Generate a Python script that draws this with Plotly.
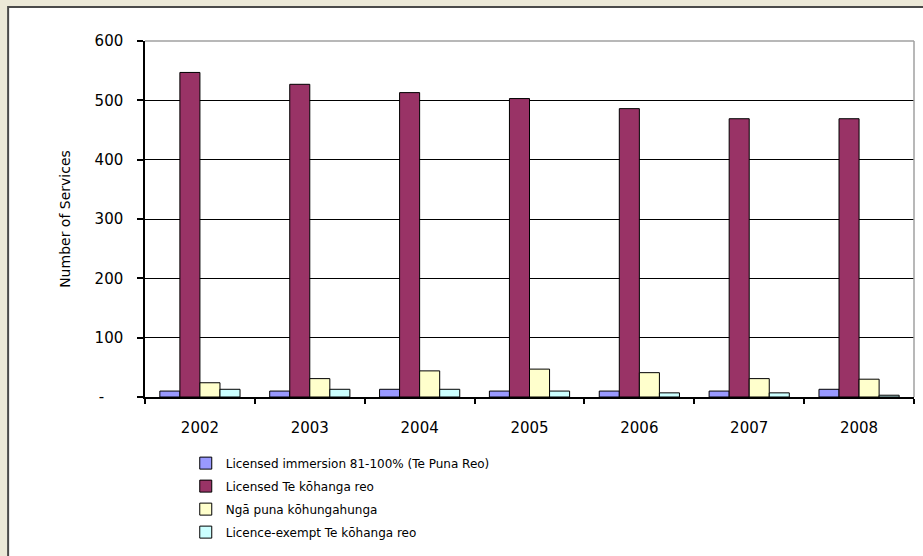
import plotly.graph_objects as go

years = ["2002", "2003", "2004", "2005", "2006", "2007", "2008"]
series_names = [
    "Licensed immersion 81-100% (Te Puna Reo)",
    "Licensed Te kōhanga reo",
    "Ngā puna kōhungahunga",
    "Licence-exempt Te kōhanga reo",
]
immersion = [10, 10, 13, 10, 10, 10, 13]
kohanga = [547, 527, 513, 503, 486, 469, 469]
puna = [24, 31, 44, 47, 41, 31, 30]
exempt = [13, 13, 13, 10, 7, 7, 3]
colors = ["#9999FF", "#993366", "#FFFFCC", "#CCFFFF"]
y_tickvals = [0, 100, 200, 300, 400, 500, 600]
y_ticktext = ["-\u00a0\u00a0\u00a0\u00a0", "100", "200", "300", "400", "500", "600"]

FONT = "DejaVu Sans"

fig = go.Figure()
for i, (name, vals) in enumerate(zip(series_names, [immersion, kohanga, puna, exempt])):
    fig.add_trace(go.Bar(
        x=years, y=vals, name=name,
        marker=dict(color=colors[i], line=dict(color="#000000", width=1)),
        legendgroup=f"g{i}",
    ))

fig.update_layout(
    width=923, height=556,
    margin=dict(l=145, r=9, t=41, b=159, autoexpand=False),
    paper_bgcolor="#ECE9D8",
    plot_bgcolor="#FFFFFF",
    barmode="group",
    bargap=0.27,
    bargroupgap=0,
    font=dict(family=FONT, color="#000000", size=13),
    showlegend=True,
    legend=dict(
        x=0.053, y=-0.145, xanchor="left", yanchor="top",
        orientation="v",
        font=dict(family=FONT, size=12, color="#000000"),
        bgcolor="rgba(0,0,0,0)",
        tracegroupgap=4,
        itemclick=False,
    ),
    shapes=[
        dict(type="rect", xref="paper", yref="paper",
             x0=-0.178, x1=1.05, y0=-0.55, y1=1.0955,
             fillcolor="#FFFFFF", line=dict(color="#4A4A4A", width=2), layer="below"),
        dict(type="line", xref="paper", yref="paper",
             x0=0, x1=1, y0=1, y1=1, line=dict(color="#A0A0A0", width=1.5), layer="above"),
        dict(type="line", xref="paper", yref="paper",
             x0=1, x1=1, y0=0, y1=1, line=dict(color="#A0A0A0", width=1.5), layer="above"),
    ],
)

fig.update_xaxes(
    type="category",
    showline=True, linecolor="#000000", linewidth=1.5,
    ticks="outside", tickson="boundaries", ticklen=5, tickcolor="#000000", tickwidth=1.5,
    tickfont=dict(family=FONT, size=15),
    ticklabelstandoff=16,
    showgrid=False,
    automargin=False,
)
fig.update_yaxes(
    range=[0, 600],
    tickvals=y_tickvals, ticktext=y_ticktext,
    showline=True, linecolor="#000000", linewidth=1.5,
    ticks="outside", ticklen=6, tickcolor="#000000", tickwidth=1.5,
    tickfont=dict(family=FONT, size=15),
    ticklabelstandoff=11,
    showgrid=True, gridcolor="#000000", gridwidth=1.2,
    zeroline=False,
    automargin=False,
    title=dict(text="Number of Services", font=dict(family=FONT, size=14), standoff=21),
)

fig.write_html(
    "out.html",
    config={"displayModeBar": False},
    post_script="document.body.style.margin='0';document.body.style.background='#ECE9D8';",
)
